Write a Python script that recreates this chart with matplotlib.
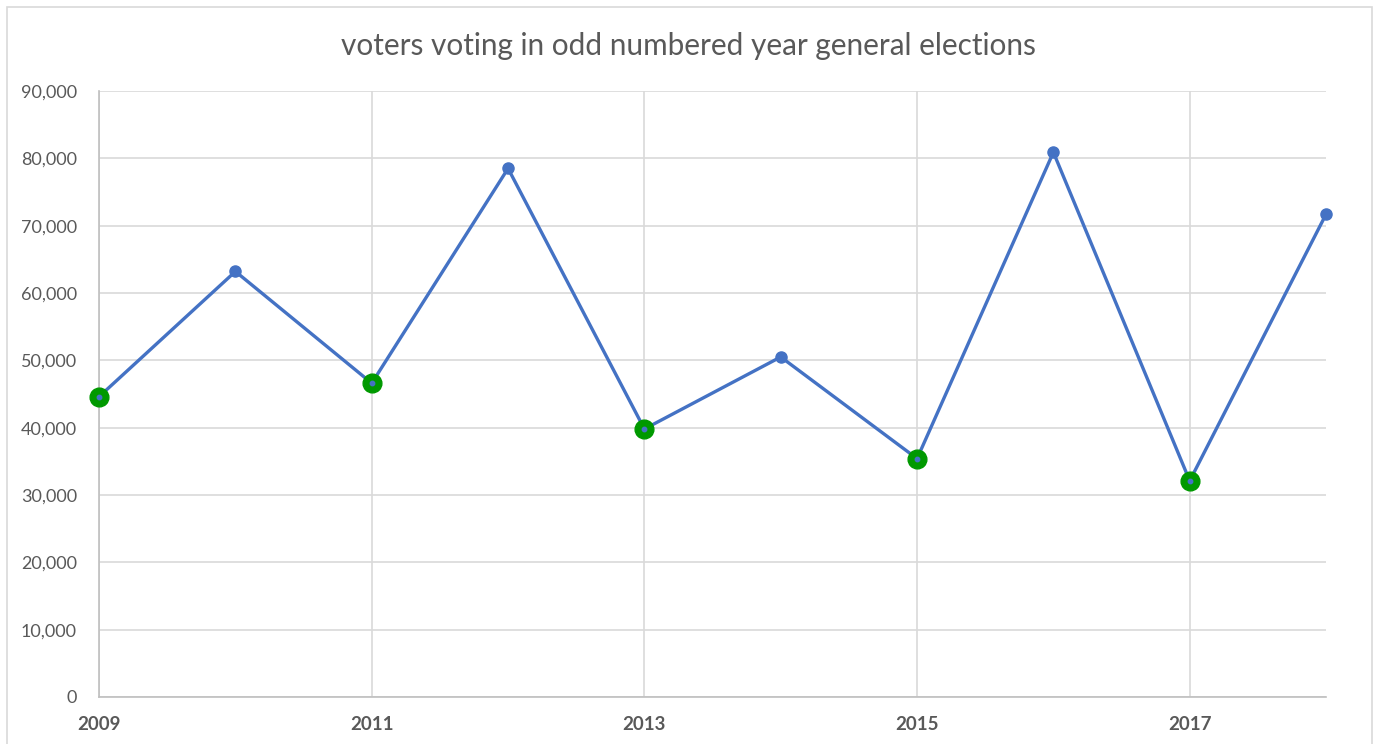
import numpy as np
import matplotlib.pyplot as plt
from matplotlib.patches import Rectangle
from matplotlib.ticker import FuncFormatter

# voters per year
years = [2009, 2010, 2011, 2012, 2013, 2014, 2015, 2016, 2017, 2018]
voters = [44600, 63200, 46600, 78500, 39800, 50500, 35400, 80900, 32100, 71700]

# odd numbered years highlighted in green
odd_years = [2009, 2011, 2013, 2015, 2017]
odd_voters = [44600, 46600, 39800, 35400, 32100]

xtick_years = [2009, 2011, 2013, 2015, 2017]

plt.rcParams['font.family'] = ['Lato', 'DejaVu Sans']
txt = '#595959'
grid = '#D9D9D9'

fig = plt.figure(figsize=(13.76, 7.44), dpi=100)
ax = fig.add_axes([0.072, 0.0632, 0.8917, 0.8145])

ax.plot(years, voters, color='#4472C4', lw=2.4, marker='o', ms=8,
        zorder=3, clip_on=False)
ax.plot(odd_years, odd_voters, ls='none', marker='o', ms=13.5,
        color='#009900', zorder=4, clip_on=False)
ax.plot(odd_years, odd_voters, ls='none', marker='o', ms=3.2,
        color='#4472C4', zorder=5, clip_on=False)

ax.set_xlim(2009, 2018)
ax.set_ylim(0, 90000)
ax.set_xticks(xtick_years)
ax.set_yticks(np.arange(0, 90001, 10000))
ax.yaxis.set_major_formatter(FuncFormatter(lambda v, p: f'{int(v):,}'))

ax.grid(True, color=grid, lw=1.2)
ax.set_axisbelow(True)
ax.tick_params(length=0, colors=txt)
ax.tick_params(axis='y', labelsize=13, pad=16)
ax.tick_params(axis='x', labelsize=13.5, pad=14)
for lab in ax.get_xticklabels():
    lab.set_fontweight('bold')

for s in ['top', 'right']:
    ax.spines[s].set_visible(False)
for s in ['left', 'bottom']:
    ax.spines[s].set_color('#BFBFBF')
    ax.spines[s].set_linewidth(1.2)

fig.text(0.5, 0.938, 'voters voting in odd numbered year general elections',
         ha='center', va='center', fontsize=21.4, color=txt)

# light border round the chart area
fig.patches.append(Rectangle((7 / 1376, -0.05), 1365 / 1376, 1.05 - 7 / 744,
                             transform=fig.transFigure, fill=False,
                             edgecolor='#D9D9D9', lw=1.2))

fig.savefig('out.png', dpi=100)
